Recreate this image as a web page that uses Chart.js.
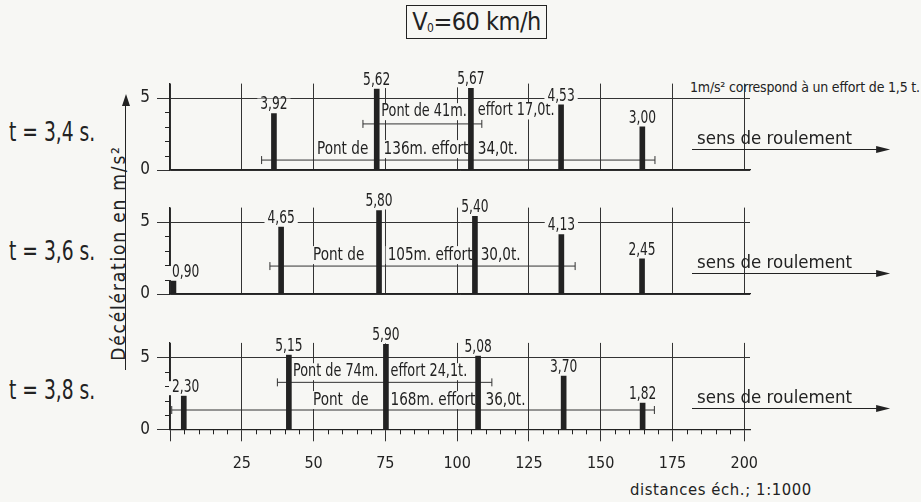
<!DOCTYPE html>
<html lang="fr">
<head>
<meta charset="UTF-8">
<title>Décélération - V0=60 km/h</title>
<script src="https://cdn.jsdelivr.net/npm/chart.js"></script>
<style>
  body { margin: 0; background: #f7f7f4; color: #222; font-family: "DejaVu Sans Condensed", "DejaVu Sans", sans-serif; }
  .page { position: relative; width: 921px; height: 502px; overflow: hidden; }
  .panel { position: absolute; left: 0; }
  .title { position: absolute; left: 406px; top: 5px; width: 139px; height: 32px; border: 1.5px solid #222;
           font-size: 25px; line-height: 32px; text-align: center; letter-spacing: -0.5px; }
  .title sub { font-size: 12px; vertical-align: -2px; }
  .tlabel { position: absolute; left: 9px; font-size: 27px; transform: scaleX(0.77); transform-origin: left center; }
  .note { position: absolute; left: 690px; top: 79px; font-size: 14px; letter-spacing: -0.2px; }
  .ytitle { position: absolute; left: -12px; top: 242px; width: 260px; text-align: center; font-size: 19px;
            letter-spacing: 1.8px; transform: rotate(-90deg); }
  .yline { position: absolute; left: 125px; top: 104px; width: 1.3px; height: 266px; background: #222; }
  .yarrow { position: absolute; left: 121.5px; top: 94px; width: 0; height: 0;
            border-left: 4px solid transparent; border-right: 4px solid transparent; border-bottom: 12px solid #222; }
  .xtitle { position: absolute; left: 630px; top: 480px; font-size: 16.5px; letter-spacing: 0.6px; }
</style>
</head>
<body>
<div class="page">
  <div class="title">V<sub>0</sub>=60 km/h</div>
  <div class="note">1m/s² correspond à un effort de 1,5 t.</div>
  <div class="tlabel" style="top:116px">t = 3,4 s.</div>
  <div class="tlabel" style="top:235px">t = 3,6 s.</div>
  <div class="tlabel" style="top:374px">t = 3,8 s.</div>
  <div class="ytitle">Décélération en m/s²</div>
  <div class="yline"></div>
  <div class="yarrow"></div>
  <div class="xtitle">distances éch.; 1:1000</div>

  <canvas id="p34" class="panel" style="top:55px" width="921" height="135"></canvas>
  <canvas id="p36" class="panel" style="top:190px" width="921" height="135"></canvas>
  <canvas id="p38" class="panel" style="top:325px" width="921" height="177"></canvas>
</div>

<script>
// axis ticks
const xTicks = [0, 25, 50, 75, 100, 125, 150, 175, 200];
const yTicks = [0, 5];

// t = 3,4 s : axle positions (m) and deceleration (m/s2)
const pos34 = [36.2, 72.0, 104.8, 136.2, 164.5];
const dec34 = [3.92, 5.62, 5.67, 4.53, 3.00];
// t = 3,6 s
const pos36 = [1.2, 38.7, 72.8, 106.2, 136.3, 164.4];
const dec36 = [0.90, 4.65, 5.80, 5.40, 4.13, 2.45];
// t = 3,8 s
const pos38 = [4.8, 41.4, 75.2, 107.3, 137.1, 164.6];
const dec38 = [2.30, 5.15, 5.90, 5.08, 3.70, 1.82];

// bridge spans (start, end in m, drawn at a level in m/s2)
const pontStart34 = [67.2, 31.9];
const pontEnd34 = [108.6, 168.9];
const pontLevel34 = [3.2, 0.69];
const pontStart36 = [34.8];
const pontEnd36 = [141.1];
const pontLevel36 = [1.94];
const pontStart38 = [37.4, 0.6];
const pontEnd38 = [112.1, 168.7];
const pontLevel38 = [3.26, 1.34];

const INK = '#222';
const BG = '#f7f7f4';
const FONT = '"DejaVu Sans Condensed", "DejaVu Sans", sans-serif';
const SQUEEZE = 0.84; // the drawing's lettering is narrow

// text pieces of the bridge captions, placed in data units
const texts34 = [
    { text: 'Pont de 41m.', x: 73.6, y: 4.05, size: 17 },
    { text: 'effort 17,0t.', x: 107.2, y: 4.1, size: 17 },
    { text: 'Pont de', x: 51.2, y: 1.45, size: 18 },
    { text: '136m. effort', x: 74.4, y: 1.45, size: 18 },
    { text: '34,0t.', x: 107.2, y: 1.45, size: 18 }
];
const texts36 = [
    { text: 'Pont de', x: 49.8, y: 2.7, size: 18 },
    { text: '105m. effort', x: 75.8, y: 2.7, size: 18 },
    { text: '30,0t.', x: 108.2, y: 2.7, size: 18 }
];
const texts38 = [
    { text: 'Pont de 74m.', x: 42.8, y: 4.0, size: 17 },
    { text: 'effort 24,1t.', x: 76.8, y: 4.0, size: 17 },
    { text: 'Pont  de', x: 49.8, y: 2.03, size: 18 },
    { text: '168m. effort', x: 76.8, y: 2.03, size: 18 },
    { text: '36,0t.', x: 109.9, y: 2.03, size: 18 }
];

function squeezedText(ctx, text, px, py) {
    ctx.save();
    ctx.translate(px, py);
    ctx.scale(SQUEEZE, 1);
    ctx.fillText(text, 0, 0);
    ctx.restore();
}

const decor = {
    id: 'decor',
    beforeDatasetsDraw(chart, args, opts) {
        const { ctx, chartArea, scales: { x, y } } = chart;
        ctx.save();
        ctx.strokeStyle = INK;
        ctx.lineWidth = 1;
        ctx.beginPath();
        // small ticks at 1..4 m/s2 on the left edge
        for (let v = 1; v < 5; v++) {
            const py = Math.round(y.getPixelForValue(v)) + 0.5;
            ctx.moveTo(chartArea.left - 5, py);
            ctx.lineTo(chartArea.left, py);
        }
        // 5 m ticks under the distance axis
        if (opts.xMinor) {
            for (let v = 5; v < 200; v += 5) {
                if (v % 25 === 0) continue;
                const px = Math.round(x.getPixelForValue(v)) + 0.5;
                ctx.moveTo(px, chartArea.bottom);
                ctx.lineTo(px, chartArea.bottom + 5);
            }
        }
        ctx.stroke();

        ctx.textBaseline = 'middle';
        ctx.textAlign = 'left';
        opts.texts.forEach(t => {
            ctx.font = t.size + 'px ' + FONT;
            const px = x.getPixelForValue(t.x);
            const py = y.getPixelForValue(t.y);
            const w = ctx.measureText(t.text).width * SQUEEZE;
            ctx.fillStyle = BG;
            ctx.fillRect(px - 2, py - t.size * 0.5, w + 4, t.size);
            ctx.fillStyle = INK;
            squeezedText(ctx, t.text, px, py);
        });
        ctx.restore();
    },
    afterDatasetsDraw(chart, args, opts) {
        const { ctx, chartArea } = chart;
        const meta = chart.getDatasetMeta(0);
        ctx.save();
        ctx.font = '17px ' + FONT;
        ctx.textAlign = 'left';
        ctx.textBaseline = 'bottom';
        meta.data.forEach((bar, i) => {
            const label = opts.values[i].toFixed(2).replace('.', ',');
            const w = ctx.measureText(label).width * 0.8;
            let left = bar.x - w / 2;
            if (left < chartArea.left + 2) left = chartArea.left + 2;
            const base = bar.y;
            ctx.fillStyle = BG;
            ctx.fillRect(left - 3, base - 15, w + 6, 14);
            ctx.fillStyle = INK;
            ctx.save();
            ctx.translate(left, base);
            ctx.scale(0.8, 1);
            ctx.fillText(label, 0, 0);
            ctx.restore();
        });

        // direction of travel
        const x = chart.scales.x, y = chart.scales.y;
        const x0 = x.getPixelForValue(181.8);
        const x1 = x.getPixelForValue(250.8);
        const ya = Math.round(y.getPixelForValue(1.45)) + 0.5;
        ctx.strokeStyle = INK;
        ctx.lineWidth = 1.2;
        ctx.beginPath();
        ctx.moveTo(x0, ya);
        ctx.lineTo(x1 - 10, ya);
        ctx.stroke();
        ctx.fillStyle = INK;
        ctx.beginPath();
        ctx.moveTo(x1, ya);
        ctx.lineTo(x1 - 14, ya - 3.5);
        ctx.lineTo(x1 - 14, ya + 3.5);
        ctx.closePath();
        ctx.fill();
        ctx.font = '18.5px ' + FONT;
        ctx.textBaseline = 'middle';
        ctx.fillText('sens de roulement', x0 + 5, y.getPixelForValue(2.15));
        ctx.restore();
    }
};

function makePanel(id, pos, dec, pStart, pEnd, pLevel, texts, padTop, padBottom, showX) {
    const datasets = [{
        type: 'bar',
        data: pos.map((p, i) => ({ x: p, y: dec[i] })),
        backgroundColor: INK,
        barThickness: 5,
        grouped: false
    }];
    pStart.forEach((s, i) => {
        datasets.push({
            type: 'line',
            data: [{ x: s, y: pLevel[i] }, { x: pEnd[i], y: pLevel[i] }],
            borderColor: '#333',
            borderWidth: 1,
            pointStyle: 'line',
            rotation: 90,
            pointRadius: 4,
            pointBorderWidth: 1,
            pointBorderColor: '#333'
        });
    });

    return new Chart(document.getElementById(id), {
        type: 'bar',
        data: { datasets: datasets },
        options: {
            responsive: false,
            animation: false,
            devicePixelRatio: 1,
            layout: { padding: { left: 0, right: 171, top: padTop, bottom: padBottom } },
            plugins: {
                legend: { display: false },
                tooltip: { enabled: false },
                decor: { values: dec, texts: texts, xMinor: showX }
            },
            scales: {
                x: {
                    type: 'linear',
                    min: 0,
                    max: 202,
                    offset: false,
                    afterBuildTicks: s => { s.ticks = xTicks.map(v => ({ value: v })); },
                    afterFit: s => { s.height = showX ? 45 : 0; },
                    ticks: {
                        display: showX,
                        autoSkip: false,
                        maxRotation: 0,
                        padding: 13,
                        color: INK,
                        font: { family: FONT, size: 16 },
                        callback: v => (v === 0 ? '' : v)
                    },
                    grid: { color: '#333', lineWidth: 1, offset: false, drawTicks: showX, tickLength: showX ? 12 : 0 },
                    border: { color: INK, width: 1.2 }
                },
                y: {
                    min: 0,
                    max: 6,
                    afterBuildTicks: s => { s.ticks = yTicks.map(v => ({ value: v })); },
                    afterFit: s => { s.width = 170; },
                    ticks: { color: INK, padding: 7, font: { family: FONT, size: 17 } },
                    grid: { color: '#333', lineWidth: 1, tickLength: 13 },
                    border: { color: INK, width: 1.2 }
                }
            }
        },
        plugins: [decor]
    });
}

makePanel('p34', pos34, dec34, pontStart34, pontEnd34, pontLevel34, texts34, 28.6, 20, false);
makePanel('p36', pos36, dec36, pontStart36, pontEnd36, pontLevel36, texts36, 17.6, 31, false);
makePanel('p38', pos38, dec38, pontStart38, pontEnd38, pontLevel38, texts38, 17.9, 27.7, true);
</script>
</body>
</html>
